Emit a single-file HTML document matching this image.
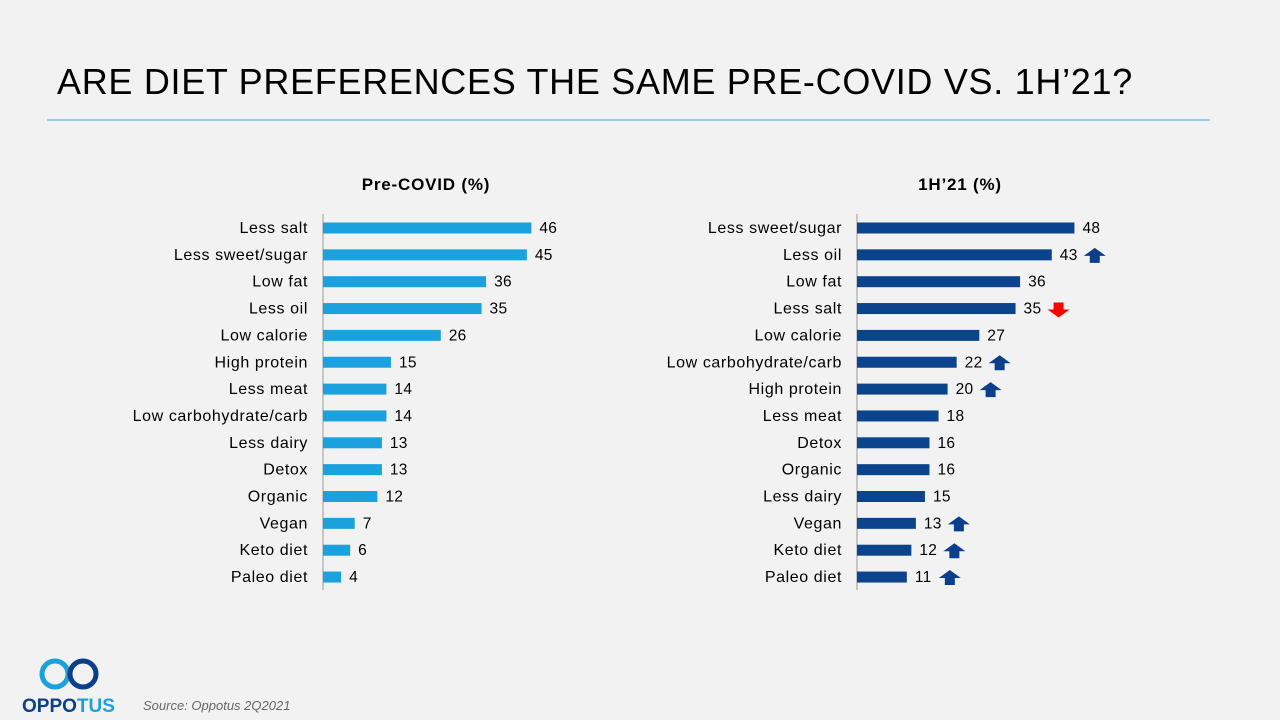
<!DOCTYPE html>
<html><head><meta charset="utf-8"><style>
body{margin:0;background:#f2f2f2;font-family:"Liberation Sans",sans-serif;}
svg{display:block}
</style></head><body>
<svg id="s" width="1280" height="720">
<text x="57" y="94" font-size="36" letter-spacing="0.7" fill="#000">ARE DIET PREFERENCES THE SAME PRE-COVID VS. 1H’21?</text>
<line x1="47" y1="120" x2="1210" y2="120" stroke="#3fa6d8" stroke-width="1"/>
<text x="426" y="190" font-size="17" letter-spacing="0.8" font-weight="bold" text-anchor="middle">Pre-COVID (%)</text>
<text x="960" y="190" font-size="17" letter-spacing="0.8" font-weight="bold" text-anchor="middle">1H’21 (%)</text>
<g>
<circle cx="55" cy="674" r="13" fill="none" stroke="#1ba1de" stroke-width="5"/>
<circle cx="83" cy="674" r="13" fill="none" stroke="#0b3f8c" stroke-width="5"/>
<text x="22" y="712" font-size="19" font-weight="bold" fill="#0b3f8c">OPPO<tspan fill="#1ba1de">TUS</tspan></text>
</g>
<text x="143" y="710" font-size="13" font-style="italic" fill="#666">Source: Oppotus 2Q2021</text>
<g id="left"></g>
<g id="right"></g>
</svg>
<script>
const leftCats=["Less salt","Less sweet/sugar","Low fat","Less oil","Low calorie","High protein","Less meat","Low carbohydrate/carb","Less dairy","Detox","Organic","Vegan","Keto diet","Paleo diet"];
const leftVals=[46,45,36,35,26,15,14,14,13,13,12,7,6,4];
const rightCats=["Less sweet/sugar","Less oil","Low fat","Less salt","Low calorie","Low carbohydrate/carb","High protein","Less meat","Detox","Organic","Less dairy","Vegan","Keto diet","Paleo diet"];
const rightVals=[48,43,36,35,27,22,20,18,16,16,15,13,12,11];
const rightChange=[0,1,0,-1,0,1,1,0,0,0,0,1,1,1];
const NS="http://www.w3.org/2000/svg";
function mk(t,a,p){const e=document.createElementNS(NS,t);for(const k in a)e.setAttribute(k,a[k]);p.appendChild(e);return e;}
function xs(x0,v){return x0+v*4.53;}
function ys(i){return 228+i*26.85;}
function draw(g,x0,cats,vals,color,chg){
  const ax=mk('line',{x1:x0,y1:214,x2:x0,y2:590,stroke:'#999','stroke-width':1},g);
  
  
  cats.forEach((c,i)=>{
    const y=ys(i);
    const l=mk('text',{x:x0-15,y:y+5,'font-size':16,'letter-spacing':0.6,'text-anchor':'end',fill:'#000'},g);l.textContent=c;
    
    
    const w=xs(x0,vals[i])-x0;
    const b=mk('rect',{x:x0,y:y-5.5,width:w,height:11,fill:color},g);
    
    
    const v=mk('text',{x:x0+w+8,y:y+5,'font-size':15.5,'letter-spacing':0.3,fill:'#000'},g);v.textContent=vals[i];
    
    
    if(chg&&chg[i]){
      const ax0=x0+w+32,d=chg[i];let pts;
      if(d>0)pts=`${ax0},${y+1} ${ax0+11},${y-7} ${ax0+22},${y+1} ${ax0+16},${y+1} ${ax0+16},${y+8} ${ax0+6},${y+8} ${ax0+6},${y+1}`;
      else pts=`${ax0},${y+1} ${ax0+11},${y+9} ${ax0+22},${y+1} ${ax0+16},${y+1} ${ax0+16},${y-6} ${ax0+6},${y-6} ${ax0+6},${y+1}`;
      const a=mk('polygon',{points:pts,fill:d>0?'#0b3f8c':'#ff0000'},g);
      
      
    }
  });
}
draw(document.getElementById('left'),323,leftCats,leftVals,'#1ba1de',null);
draw(document.getElementById('right'),857,rightCats,rightVals,'#0b448c',rightChange);
</script>
</body></html>
